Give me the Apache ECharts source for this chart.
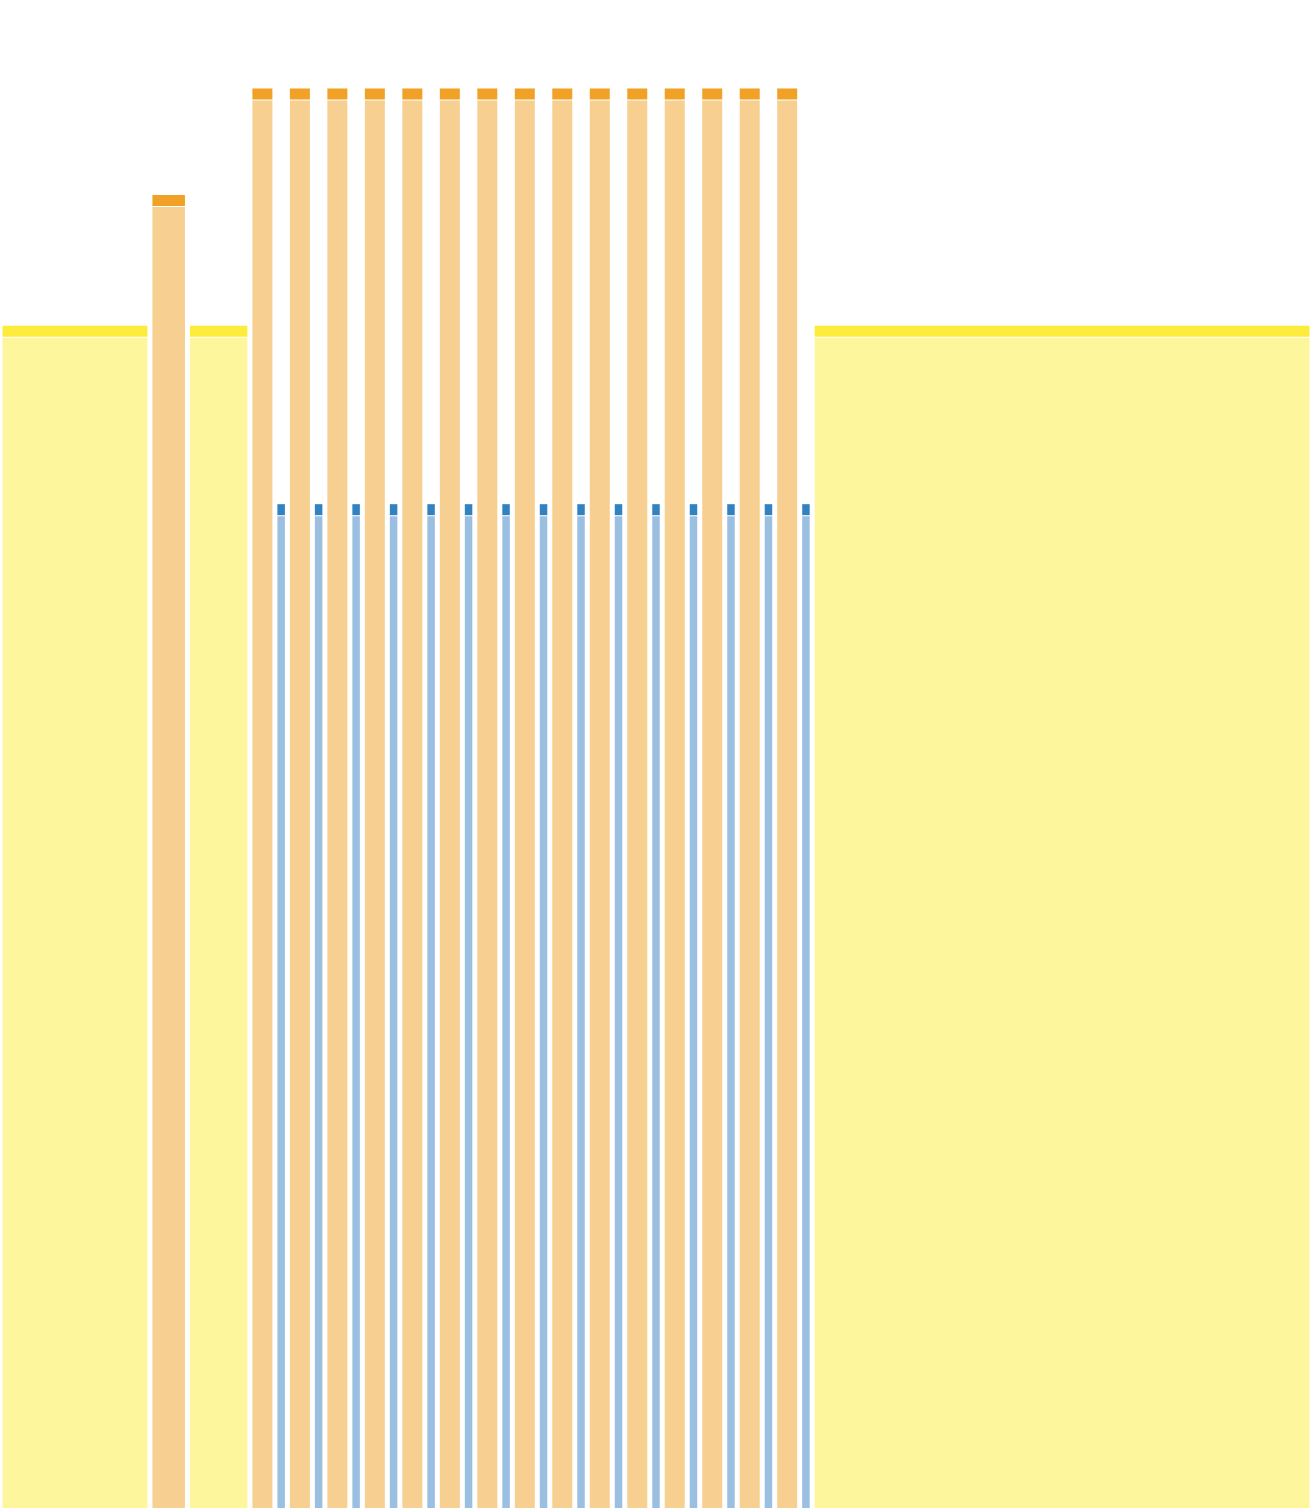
<!DOCTYPE html>
<html>
<head>
<meta charset="utf-8">
<script src="https://cdn.jsdelivr.net/npm/echarts@6/dist/echarts.min.js"></script>
<style>
  html, body { margin: 0; padding: 0; background: #fff; }
  #main { width: 1312px; height: 1508px; }
</style>
</head>
<body>
<div id="main"></div>
<script>
// spans on the x axis: [start, end, height]
var yellowSpans = [
  [0, 12, 117.6],
  [15, 20, 117.6],
  [65, 105, 117.6]
];
var orangeSpans = [
  [12, 15, 130.6],
  [20, 22, 141.2],
  [23, 25, 141.2],
  [26, 28, 141.2],
  [29, 31, 141.2],
  [32, 34, 141.2],
  [35, 37, 141.2],
  [38, 40, 141.2],
  [41, 43, 141.2],
  [44, 46, 141.2],
  [47, 49, 141.2],
  [50, 52, 141.2],
  [53, 55, 141.2],
  [56, 58, 141.2],
  [59, 61, 141.2],
  [62, 64, 141.2]
];
var blueSpans = [
  [22, 23, 99.85],
  [25, 26, 99.85],
  [28, 29, 99.85],
  [31, 32, 99.85],
  [34, 35, 99.85],
  [37, 38, 99.85],
  [40, 41, 99.85],
  [43, 44, 99.85],
  [46, 47, 99.85],
  [49, 50, 99.85],
  [52, 53, 99.85],
  [55, 56, 99.85],
  [58, 59, 99.85],
  [61, 62, 99.85],
  [64, 65, 99.85]
];

var chart = echarts.init(document.getElementById('main'));

function makeRender(capColor, bodyColor) {
  return function (params, api) {
    var p0 = api.coord([api.value(0), api.value(2)]);
    var p1 = api.coord([api.value(1), 0]);
    var x = p0[0] + 2.5;
    var w = p1[0] - p0[0] - 5;
    var top = p0[1];
    var capH = 11;
    return {
      type: 'group',
      children: [{
        type: 'rect',
        shape: { x: x, y: top, width: w, height: capH },
        style: { fill: capColor }
      }, {
        type: 'rect',
        shape: { x: x, y: top + capH + 1, width: w, height: p1[1] - top - capH - 1 },
        style: { fill: bodyColor }
      }]
    };
  };
}

var option = {
  backgroundColor: '#ffffff',
  animation: false,
  grid: { left: 0, right: 0, top: 0, bottom: 0 },
  xAxis: { type: 'value', min: 0, max: 105, show: false },
  yAxis: { type: 'value', min: 0, max: 150, show: false },
  series: [{
    name: 'yellow',
    type: 'custom',
    renderItem: makeRender('#fdec3c', '#fdf69d'),
    encode: { x: [0, 1], y: 2 },
    data: yellowSpans
  }, {
    name: 'orange',
    type: 'custom',
    renderItem: makeRender('#f0a126', '#f6cf91'),
    encode: { x: [0, 1], y: 2 },
    data: orangeSpans
  }, {
    name: 'blue',
    type: 'custom',
    renderItem: makeRender('#3282c2', '#9bbfe0'),
    encode: { x: [0, 1], y: 2 },
    data: blueSpans
  }]
};
chart.setOption(option);
</script>
</body>
</html>
